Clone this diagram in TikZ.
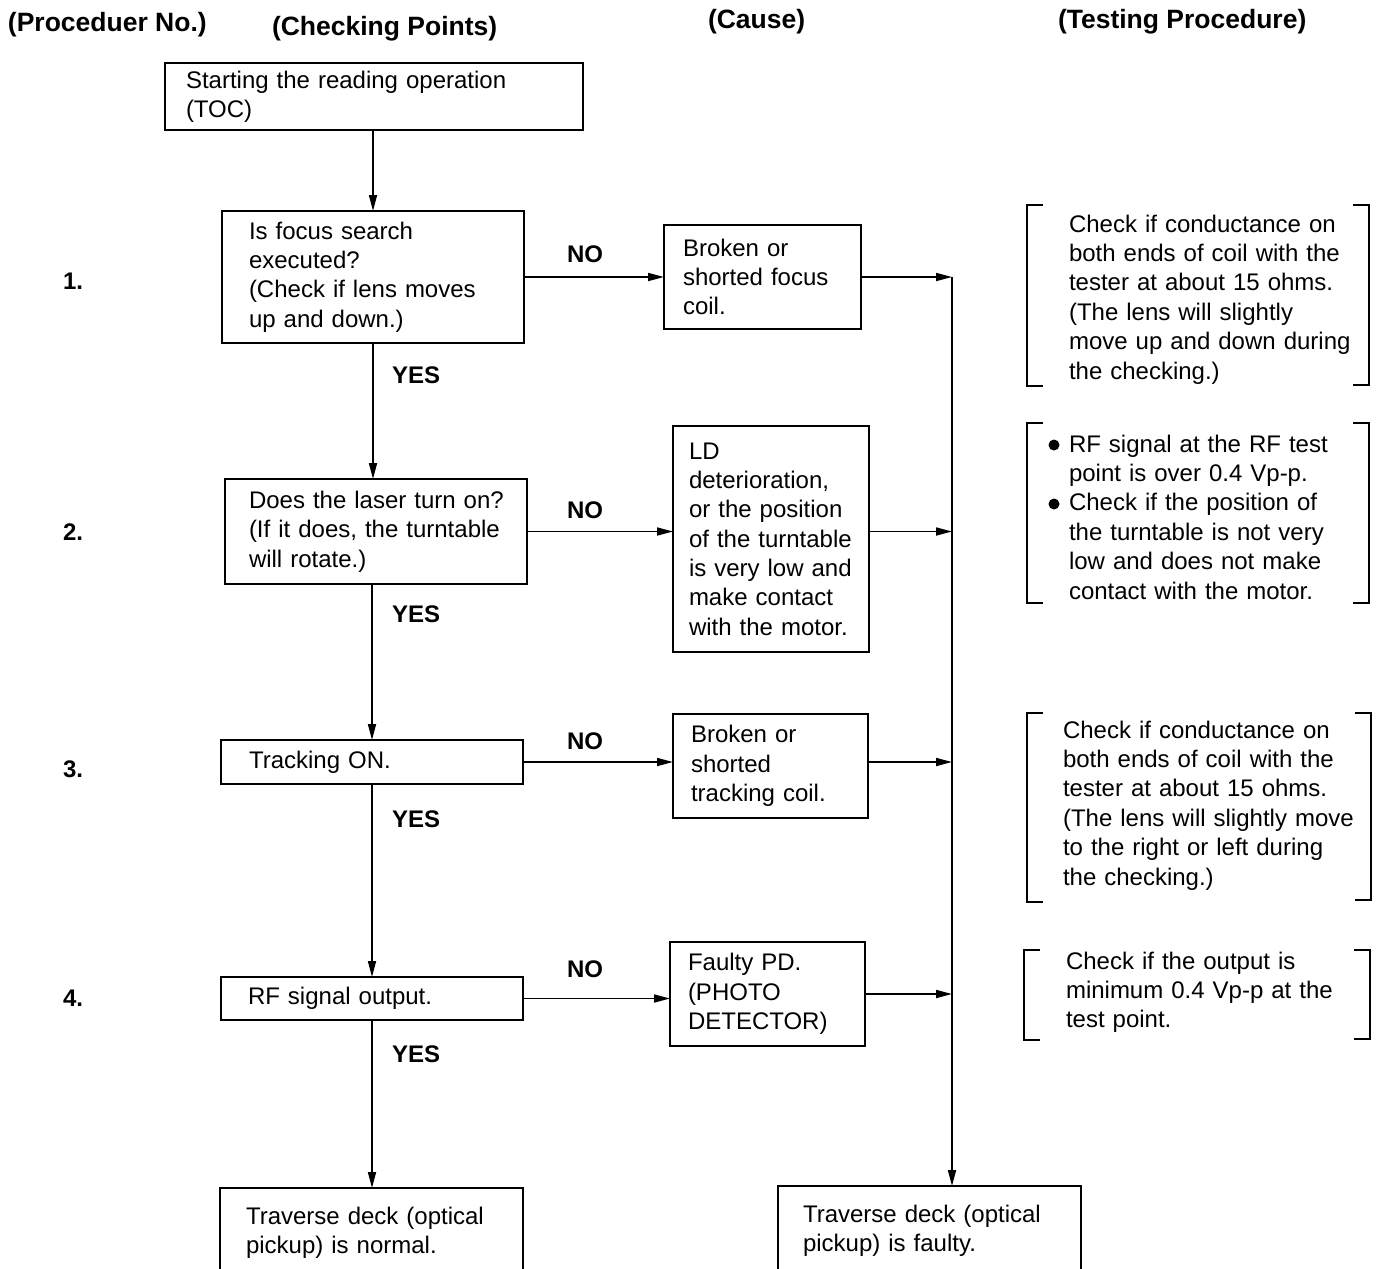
\documentclass[tikz,border=0pt]{standalone}
\usepackage{fontspec}
\setmainfont{Liberation Sans}
\usetikzlibrary{arrows.meta}
\begin{document}
\begin{tikzpicture}[x=1pt,y=-1pt,
  every node/.style={outer sep=0pt},
  box/.style={draw, line width=1.9pt, anchor=north west, align=left, inner ysep=0pt,
    font=\fontsize{24}{29.3}\selectfont},
  arr/.style={line width=1.7pt, -{Triangle[length=16pt,width=8pt]}},
  ln/.style={line width=1.7pt},
  hdr/.style={anchor=base west, inner sep=0pt, font=\bfseries\fontsize{26.5}{30}\selectfont},
  lbl/.style={anchor=base west, inner sep=0pt, font=\bfseries\fontsize{24}{29}\selectfont},
  txt/.style={anchor=base west, inner sep=0pt, align=left, text width=320pt,
    font=\fontsize{24}{29.4}\selectfont},
  brk/.style={line width=1.6pt}
]
\useasboundingbox[fill=white] (0,0) rectangle (1377,1269);

% headers
\node[hdr] (h1) at (8,31) {(Proceduer No.)};
\node[hdr] (h2) at (272,35) {(Checking Points)};
\node[hdr] (h3) at (708,28) {(Cause)};
\node[hdr] (h4) at (1058,28) {(Testing Procedure)};

% procedure numbers
\node[lbl] (n1) at (63,289) {1.};
\node[lbl] (n2) at (63,540) {2.};
\node[lbl] (n3) at (63,777) {3.};
\node[lbl] (n4) at (63,1006) {4.};

% checking points
\node[box, text width=376pt, inner xsep=21pt, minimum height=67pt] (start) at (165,63)
  {Starting~the~reading~operation\\(TOC)};
\node[box, text width=248pt, inner xsep=27pt, minimum height=132pt] (b1) at (222,211)
  {Is~focus~search\\executed?\\(Check~if~lens~moves\\up~and~down.)};
\node[box, text width=254pt, inner xsep=24pt, minimum height=105pt] (b2) at (225,479)
  {Does~the~laser~turn~on?\\(If~it~does,~the~turntable\\will~rotate.)};
\node[box, text width=246pt, inner xsep=28pt, minimum height=44pt] (b3) at (221,740)
  {Tracking~ON.};
\node[box, text width=248pt, inner xsep=27pt, minimum height=43pt] (b4) at (221,977)
  {RF~signal~output.};
\node[box, text width=251pt, inner xsep=26pt, minimum height=90pt] (nl) at (220,1188)
  {Traverse~deck~(optical\\pickup)~is~normal.};

% causes
\node[box, text width=159pt, inner xsep=19pt, minimum height=104pt] (c1) at (664,225)
  {Broken~or\\shorted~focus\\coil.};
\node[box, text width=164pt, inner xsep=16pt, minimum height=226pt] (c2) at (673,426)
  {LD\\deterioration,\\or~the~position\\of~the~turntable\\is~very~low~and\\make~contact\\with~the~motor.};
\node[box, text width=159pt, inner xsep=18pt, minimum height=104pt] (c3) at (673,714)
  {Broken~or\\shorted\\tracking~coil.};
\node[box, text width=159pt, inner xsep=18pt, minimum height=104pt] (c4) at (670,942)
  {Faulty~PD.\\(PHOTO\\DETECTOR)};
\node[box, text width=253pt, inner xsep=25pt, minimum height=89pt] (fr) at (778,1186)
  {Traverse~deck~(optical\\pickup)~is~faulty.};

% YES / NO labels
\node[lbl] (no1) at (567,262) {NO};
\node[lbl] (no2) at (567,518) {NO};
\node[lbl] (no3) at (567,749) {NO};
\node[lbl] (no4) at (567,977) {NO};
\node[lbl] (y1) at (392,383) {YES};
\node[lbl] (y2) at (392,622) {YES};
\node[lbl] (y3) at (392,827) {YES};
\node[lbl] (y4) at (392,1062) {YES};

% vertical flow
\draw[arr] (b1.north |- start.south) -- (b1.north);
\draw[arr] (b1.south) -- (b1.south |- b2.north);
\draw[arr] (b3.north |- b2.south) -- (b3.north);
\draw[arr] (b3.south) -- (b3.south |- b4.north);
\draw[arr] (b4.south) -- (b4.south |- nl.north);

% NO branches
\draw[arr] (b1.east) -- (b1.east -| c1.west);
\draw[arr] (b2.east) -- (b2.east -| c2.west);
\draw[arr] (b3.east) -- (b3.east -| c3.west);
\draw[arr] (b4.east) -- (b4.east -| c4.west);

% collecting line
\coordinate (bus) at (952,277);
\draw[arr] (c1.east) -- (bus);
\draw[arr] (b2.east -| c2.east) -- (b2.east -| bus);
\draw[arr] (b3.east -| c3.east) -- (b3.east -| bus);
\draw[arr] (c4.east) -- (c4.east -| bus);
\draw[arr] (bus) -- (bus |- fr.north);

% testing procedure texts
\node[txt] (t1) at (1069,232)
  {Check if conductance on\\both ends of coil with the\\tester at about 15 ohms.\\(The lens will slightly\\move up and down during\\the checking.)};
\node[txt] (t2) at (1069,452)
  {RF signal at the RF test\\point is over 0.4 Vp-p.\\Check if the position of\\the turntable is not very\\low and does not make\\contact with the motor.};
\node[txt] (t3) at (1063,738)
  {Check if conductance on\\both ends of coil with the\\tester at about 15 ohms.\\(The lens will slightly move\\to the right or left during\\the checking.)};
\node[txt] (t4) at (1066,969)
  {Check if the output is\\minimum 0.4 Vp-p at the\\test point.};
\fill (1054,445) circle (5.5pt);
\fill (1054,504) circle (5.5pt);

% brackets
\draw[brk] (1043,205) -| (1027,386) -- (1043,386);
\draw[brk] (1353,205) -| (1369,385) -- (1353,385);
\draw[brk] (1043,423) -| (1027,603) -- (1043,603);
\draw[brk] (1353,423) -| (1369,603) -- (1353,603);
\draw[brk] (1043,713) -| (1027,902) -- (1043,902);
\draw[brk] (1355,713) -| (1371,900) -- (1355,900);
\draw[brk] (1040,950) -| (1024,1040) -- (1040,1040);
\draw[brk] (1354,950) -| (1370,1039) -- (1354,1039);
\end{tikzpicture}
\end{document}
